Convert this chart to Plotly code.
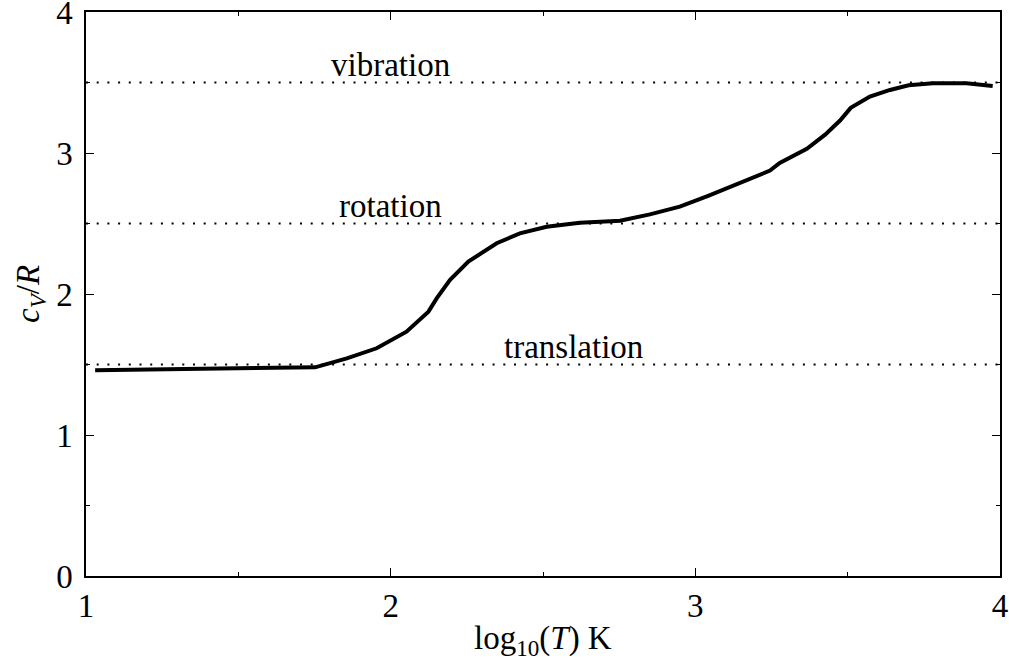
import plotly.graph_objects as go

# Curve data: log10(T) and c_V/R
log_T = [1.03, 1.20, 1.40, 1.637, 1.752, 1.856, 1.954, 2.052, 2.124, 2.151, 2.195,
         2.255, 2.348, 2.424, 2.512, 2.621, 2.753, 2.851, 2.949, 3.04, 3.135, 3.245,
         3.277, 3.366, 3.426, 3.475, 3.51, 3.573, 3.639, 3.70, 3.78, 3.89, 3.976]
cv_R = [1.46, 1.465, 1.47, 1.473, 1.48, 1.544, 1.615, 1.733, 1.875, 1.969, 2.10,
        2.23, 2.36, 2.43, 2.477, 2.506, 2.52, 2.565, 2.62, 2.695, 2.78, 2.875,
        2.93, 3.03, 3.13, 3.23, 3.32, 3.40, 3.447, 3.48, 3.494, 3.494, 3.475]

# Reference levels
level_names = ["translation", "rotation", "vibration"]
level_values = [1.5, 2.5, 3.5]
level_label_x = [2.6, 2.0, 2.0]

x_range = [1, 4]
y_range = [0, 4]
x_ticks = [1, 2, 3, 4]
y_ticks = [0, 1, 2, 3, 4]

FONT = '"Liberation Serif", "Times New Roman", "DejaVu Serif", serif'
FS = 33

fig = go.Figure()

for name, val in zip(level_names, level_values):
    fig.add_trace(go.Scatter(
        x=x_range, y=[val, val], mode="lines",
        line=dict(color="black", width=2, dash="2px,8.7px"),
        showlegend=False, hoverinfo="skip", cliponaxis=False))

fig.add_trace(go.Scatter(
    x=log_T, y=cv_R, mode="lines",
    line=dict(color="black", width=4),
    showlegend=False))

for name, val, lx in zip(level_names, level_values, level_label_x):
    fig.add_annotation(x=lx, y=val, text=name, showarrow=False,
                       xanchor="center", yanchor="bottom", yshift=-2,
                       font=dict(family=FONT, size=FS, color="black"))

# axis titles as annotations for exact placement
fig.add_annotation(xref="paper", yref="paper", x=0.5, y=-0.114,
                   text="log<sub>10</sub>(<i>T</i>) K", showarrow=False,
                   xanchor="center", yanchor="middle",
                   font=dict(family=FONT, size=FS, color="black"))
fig.add_annotation(xref="paper", yref="paper", x=-0.0613, y=0.5,
                   text="<i>c</i><sub><i>V</i></sub>/<i>R</i>", showarrow=False,
                   textangle=-90, xanchor="center", yanchor="middle",
                   font=dict(family=FONT, size=FS, color="black"))

axis_common = dict(
    showgrid=False, zeroline=False, showline=True, linecolor="black",
    linewidth=1.5, mirror="allticks", ticks="inside", ticklen=8,
    tickwidth=1.3, tickcolor="black", automargin=False,
    ticklabeloverflow="allow",
    tickfont=dict(family=FONT, size=FS, color="black"),
    minor=dict(ticks="inside", ticklen=4, tickwidth=1.2, tickcolor="black",
               dtick=0.5, showgrid=False),
)

fig.update_xaxes(range=[x_range[0] - 1e-6, x_range[1] + 1e-6], tickvals=x_ticks,
                 ticktext=[str(v) for v in x_ticks], ticklabelstandoff=0,
                 **axis_common)
fig.update_yaxes(range=[y_range[0] - 1e-6, y_range[1] + 1e-6], tickvals=y_ticks,
                 ticktext=[str(v) for v in y_ticks], ticklabelstandoff=5,
                 **axis_common)

fig.update_layout(
    width=1009, height=662,
    margin=dict(l=86, r=9, t=12, b=86),
    plot_bgcolor="white", paper_bgcolor="white",
)

# remove the default page margin so the figure fills the window exactly
fig.write_html("out.html",
               config={"displayModeBar": False},
               post_script="document.body.style.margin='0';"
                           "document.body.style.overflow='hidden';")
